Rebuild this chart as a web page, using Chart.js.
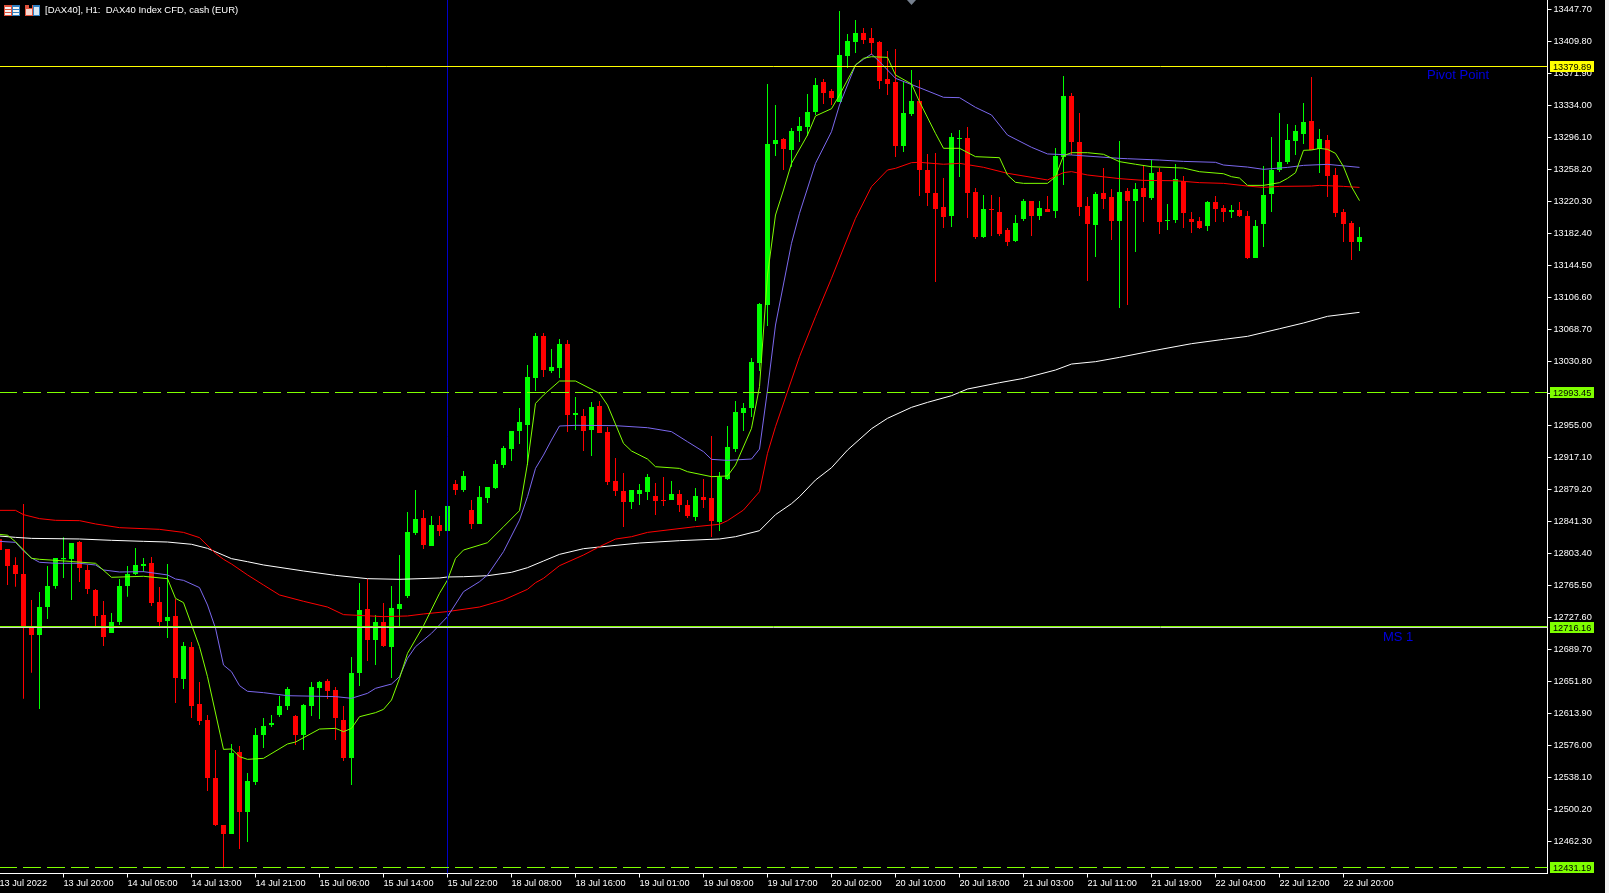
<!DOCTYPE html>
<html>
<head>
<meta charset="utf-8">
<title>DAX40 H1</title>
<script src="https://cdn.jsdelivr.net/npm/chart.js@4"></script>
<style>
  html, body { margin: 0; padding: 0; background: #f0f0f0; overflow: hidden; }
  canvas { display: block; background: #000; }
</style>
</head>
<body>
<canvas id="chart" width="1605" height="893"></canvas>
<script>
// one candle per hour, 13 Jul 2022 .. 22 Jul 2022
const opens = [
  12820.2,12808.7,12789.8,12779.1,12715.9,12706.9,12740,12764.9,12796.5,12796.9,
  12817,12783.9,12760.2,12730.6,12709.2,12722.3,12764.9,12779.1,12788.6,12792.2,
  12746,12723.5,12729.4,12654.8,12692.7,12625.2,12606.2,12537.5,12481.8,12471.2,
  12568.3,12497.2,12532.8,12588.4,12600.3,12612.1,12622.8,12610.9,12588.4,12622.8,
  12644.1,12652.4,12641.7,12606.2,12561.2,12661.9,12737.7,12701,12722.3,12692.7,
  12737.7,12753.1,12827.7,12845.4,12812.3,12837.2,12830,12885.7,12878.6,12854.9,
  12838.3,12869.1,12881,12908.2,12927.2,12948.5,12955.6,13011.2,13061,13019.5,
  13023.1,13051.5,12967.4,12966.2,12949.7,12978.1,12947.3,12889.2,12877.4,12864.4,
  12873.9,12876.2,12871.5,12866.8,12866.8,12873.9,12860.8,12846.6,12870.3,12869.1,
  12840.7,12891.6,12927.2,12969.8,12975.7,13029,13097.7,13288.4,13294.3,13281.3,
  13303.8,13308.5,13326.3,13361.8,13351.2,13338.1,13392.6,13409.2,13419.9,13413.9,
  13409.2,13365.4,13361.8,13286,13323.9,13339.3,13257.6,13230.4,13213.8,13203.1,
  13294.3,13295.5,13231.6,13178.3,13211.4,13207.9,13186.6,13173.5,13199.6,13220.9,
  13203.1,13211.4,13209,13273,13345.3,13290.8,13215,13192.5,13230.4,13225.6,
  13197.2,13232.7,13220.9,13236.3,13224.4,13255.2,13197.2,13198.4,13244.5,13199.5,
  13197.2,13191.2,13219.7,13212.6,13207.8,13210.2,13203.1,13153.4,13193.6,13229.2,
  13257.6,13267.1,13291.9,13300.2,13315.6,13282.4,13293.1,13251.7,13207.8,13194.8,
  13172.3
];
const highs = [
  12823.3,12808.7,12798.9,12862,12748.3,12757.8,12788.6,12798.1,12822.5,12815.8,
  12818.2,12789.8,12761.4,12747.1,12732.9,12773.2,12788.6,12809.9,12798.1,12799.2,
  12763.7,12791,12749.5,12698.6,12698.6,12651.2,12612.1,12570.7,12481.8,12577.8,
  12575.4,12543.4,12596.7,12608.6,12612.1,12634.6,12645.3,12612.1,12625.2,12651.2,
  12652.4,12654.8,12645.3,12622.8,12680.8,12768.5,12773.2,12730.6,12744.8,12764.9,
  12801.6,12852.6,12878.6,12854.9,12847.8,12847.8,12863.2,12890.4,12901.1,12866.8,
  12883.3,12882.2,12914.1,12930.7,12948.5,12975.7,13026.6,13064.5,13064.5,13045.6,
  13057.4,13056.3,12988.7,12974.5,12982.8,12984,12953.2,12916.5,12898.7,12878.6,
  12885.7,12897.5,12886.9,12894,12889.2,12878.6,12866.8,12881,12891.6,12942.5,
  12899.9,12954.4,12984,12981.6,13034.9,13100.1,13359.5,13334.6,13295.5,13307.4,
  13320.4,13347.6,13366.6,13365.4,13353.5,13445.9,13418.7,13435.3,13425.8,13425.8,
  13410.4,13398.5,13400.9,13361.8,13376,13364.2,13276.6,13277.8,13248.1,13301.4,
  13305,13308.5,13236.3,13228,13228,13225.6,13188.9,13204.3,13223.3,13220.9,
  13220.9,13226.8,13283.7,13368.9,13348.8,13325.1,13225.6,13231.6,13260,13235.1,
  13292,13236.3,13242.2,13262.3,13269.4,13259.9,13217.3,13264.7,13250.5,13207.8,
  13201.9,13220.9,13226.8,13216.1,13216.1,13219.7,13209,13198.4,13262.3,13296.7,
  13325.1,13312.1,13310.9,13336.9,13367.7,13306.1,13299,13259.9,13211.4,13197.2,
  13190.1
];
const lows = [
  12805.6,12766.1,12764.1,12631.5,12662.3,12619.2,12725.8,12761.7,12774.4,12748.3,
  12769.6,12755.4,12717.5,12693.9,12709.2,12718.7,12752.3,12777.9,12781.5,12741.2,
  12717.5,12703.3,12626.3,12642.9,12608.6,12600.3,12522.1,12480.7,12430.5,12471.2,
  12453.4,12461.7,12529.2,12573,12597.9,12609.8,12618,12576.6,12570.7,12610.9,
  12607.4,12631.1,12582.5,12557.6,12529.2,12646.5,12676.1,12671.3,12692.7,12656,
  12716.7,12750.7,12825.3,12808.7,12812.3,12824.1,12809.9,12872.7,12876.2,12832.4,
  12838.3,12863.2,12879.8,12904.7,12912.9,12933.1,12908.2,12995.9,13012.4,13017.2,
  13011.2,12947.3,12949.7,12924.8,12918.9,12946.1,12884.5,12871.5,12834.7,12856.1,
  12860.8,12866.8,12849,12859.6,12866.8,12852.5,12845.4,12841.9,12857.2,12822.9,
  12830,12890.4,12923.6,12948.5,12965,13019.5,13072.8,13274.2,13257.6,13261.6,
  13290.8,13297.9,13322.8,13335.8,13334.6,13338.1,13378.4,13396.2,13406.8,13393.8,
  13353.5,13346.4,13273,13278.9,13321.6,13226.8,13215,13125,13188.9,13190.1,
  13249.3,13200.8,13175.9,13177.1,13179.4,13179.4,13167.6,13172.3,13197.2,13179.4,
  13198.4,13207.9,13200.8,13239.9,13275.4,13203.1,13126.1,13154.6,13211.4,13174.7,
  13094.2,13097.7,13160.5,13196,13222,13181.8,13186.5,13194.8,13188.9,13183,
  13187.7,13185.3,13196,13196,13200.7,13201.9,13152.2,13153.4,13166.4,13207.8,
  13255.2,13264.7,13275.3,13288.4,13281.3,13254,13225.6,13201.9,13172.3,13151,
  13161.6
];
const closes = [
  12807.5,12788.6,12779.1,12715.9,12706.9,12740,12764.9,12798.1,12798.1,12815.8,
  12786.2,12761.4,12729.4,12704.5,12722.3,12764.9,12779.1,12789.8,12791,12744.8,
  12722.3,12728.2,12656,12693.9,12622.8,12605,12537.5,12481.8,12471.2,12567.1,
  12497.2,12534,12588.4,12599.1,12602.7,12622.8,12642.9,12588.4,12624,12645.3,
  12651.2,12640.5,12608.6,12561.2,12661.9,12736.5,12701,12722.3,12693.9,12738.9,
  12743.6,12828.9,12844.3,12813.5,12837.2,12830,12859.7,12878.6,12895.2,12838.3,
  12870.3,12882.2,12909.4,12928.4,12948.5,12959.1,13012.4,13061,13020.7,13024.3,
  13051.5,12967.4,12969.8,12948.5,12976.9,12946.1,12888,12877.4,12864.4,12878.6,
  12878.6,12894,12865.5,12865.5,12873.9,12860.8,12847.8,12871.5,12866.8,12841.9,
  12894,12929.5,12971,12975.7,13030.2,13098.9,13288.4,13293.1,13282.5,13303.8,
  13309.7,13326.3,13358.3,13348.8,13342.9,13393.8,13410.4,13419.9,13411.6,13408,
  13363,13359.5,13286,13325.1,13339.3,13257.6,13230.4,13211.4,13202,13296.7,
  13295.5,13230.4,13178.3,13211.4,13210.2,13181.8,13172.3,13194.8,13220.9,13203.1,
  13212.6,13207.9,13274.2,13345.3,13290.8,13213.8,13193.7,13229.2,13223.3,13197.2,
  13231.6,13220.9,13235.1,13225.6,13254,13196,13198.4,13246.9,13206.6,13196,
  13188.9,13219.7,13211.4,13207.8,13210.2,13203.1,13153.4,13191.2,13228,13257.6,
  13267.1,13293.1,13303.8,13314.4,13281.3,13294.3,13250.5,13206.6,13193.6,13172.3,
  13178.2
];

// moving averages, read at the bends of each line
const limeBars = [0,1,2,4,5,7,12,14,18,21,22,23,25,26,28,29,30,31,33,36,37,40,42,43,44,45,47,48,49,50,51,53,55,56,57,58,61,63,65,66,67,68,70,72,75,76,78,79,81,82,85,86,89,91,92,94,95,96,97,98,99,101,102,104,105,107,108,109,111,112,114,115,117,118,120,122,125,126,127,128,131,132,133,134,136,138,140,142,144,148,150,153,154,155,156,158,160,161,162,163,164,165,166,167,168,169,170];
const limeValues = [12826.1,12825,12817.4,12797.7,12796.5,12795.3,12791.8,12775.2,12776.4,12773.6,12750.3,12745.2,12693,12657.5,12571.4,12571.9,12562.8,12559.6,12560.8,12577.8,12580.1,12595.5,12596.3,12592.4,12596.3,12610.1,12614.9,12618.8,12629.9,12655.5,12685.1,12717.9,12756.2,12772,12797.6,12807.5,12816.2,12835.1,12854.1,12910.2,12981.2,12991.1,13007.7,13007.7,12993.1,12979.2,12933.8,12924.8,12915.3,12906.2,12904.2,12900.3,12894.4,12895.2,12908.2,12951.6,13001,13133.2,13204.3,13233.9,13265.5,13299,13321.6,13330.2,13346.4,13382,13389.9,13391.8,13391,13370.1,13359.5,13338.5,13301,13283.3,13283.3,13273.4,13272.2,13251.7,13243,13241.8,13241.8,13249.7,13274.6,13278.1,13278.1,13276.2,13267.5,13264.4,13261.5,13259.9,13255.6,13253.2,13249.7,13248.1,13239.4,13239.4,13242.6,13247.7,13254.4,13280.9,13281.3,13283.2,13282.1,13277.3,13261.5,13237.8,13221.3];
const purpleBars = [0,2,3,4,5,7,10,12,13,15,18,21,22,23,25,26,27,28,29,30,31,33,36,42,44,46,47,49,50,51,52,54,56,58,60,61,63,65,66,67,68,69,70,72,77,81,84,86,88,89,91,94,95,96,97,99,100,102,104,105,107,108,109,110,112,115,118,120,122,124,126,129,131,134,140,141,145,148,152,153,156,158,161,163,166,170];
const purpleValues = [12817.8,12816.6,12806.4,12798.1,12793,12791.8,12791.8,12789.8,12783.9,12781.5,12781.9,12778,12773.2,12771.6,12763,12742.4,12714.8,12671.3,12663.4,12646.9,12640.2,12638.6,12635,12633.9,12631.9,12637.8,12643.7,12648.8,12657.5,12679.3,12693,12708.9,12728.6,12758.2,12770,12777.9,12805.6,12843,12870.7,12904.2,12920,12937.8,12954.4,12955.2,12954.8,12952.4,12947.7,12935.8,12924,12914.9,12913.7,12915.3,12927.1,12997,13074,13170.8,13206.3,13265.5,13303,13334.6,13382,13388.7,13395,13385.9,13366.2,13355.1,13343.7,13343.3,13331.8,13322.8,13299,13284.5,13276.6,13275.4,13271.4,13271,13269.4,13267.8,13266.7,13263.5,13261.1,13258.4,13260.7,13263.1,13264.3,13260.7];
const redBars = [0,2,3,5,7,10,12,15,20,23,25,27,28,29,31,33,35,38,41,43,48,51,53,56,60,63,66,67,68,70,73,75,77,79,81,87,90,91,93,95,96,97,100,102,104,107,109,111,112,114,115,118,120,123,126,131,133,134,136,140,143,147,150,153,156,158,160,164,165,168,170];
const redValues = [12854.5,12854.5,12849.4,12844.7,12842.7,12842.3,12838.4,12834,12832,12828.4,12822.2,12803.6,12796.5,12791,12778,12766.1,12754.3,12746.8,12740,12731,12728.6,12729.4,12731.8,12734.6,12740,12748.3,12761,12768.8,12774,12789,12801.6,12811.5,12820.5,12823.3,12828.4,12835.2,12838,12842.3,12854.9,12876.6,12922,12953.6,13036.5,13083.9,13129.3,13200.4,13237.9,13257.6,13259.6,13266.3,13266.7,13264.4,13265.5,13260.8,13253.7,13245.8,13254.5,13255.7,13251.7,13247.4,13245.3,13244.9,13242.6,13241.8,13238.6,13237,13238.2,13238.6,13239.4,13238.2,13237];
const whiteBars = [0,2,4,10,14,18,21,24,26,29,31,33,38,42,46,50,55,56,58,61,64,66,68,70,73,75,80,85,90,92,95,97,99,100,102,104,106,109,111,114,116,119,121,125,128,132,134,137,140,144,149,153,156,160,163,166,170];
const whiteValues = [12824.1,12822.5,12821.3,12820.6,12819,12817.8,12817,12814.3,12809.5,12797.3,12793.7,12789.8,12782.7,12777.5,12773.6,12772.8,12774.4,12775.6,12775.9,12777.1,12781.1,12786.6,12794.5,12802.4,12809.1,12811.1,12815.8,12818.6,12820.6,12823.3,12830.4,12849.4,12862.4,12870.7,12890.4,12905,12925.9,12951.2,12963.5,12976.5,12982.4,12990.3,12998.2,13005.7,13010.8,13020.7,13027.8,13030.6,13035.7,13043.2,13051.9,13057,13060.6,13069.6,13076.4,13084.3,13089];

// horizontal objects on the chart
const levelValues = [13379.89, 12993.45, 12716.16, 12715.0, 12431.19];
const levelColors = ['#ffff00', '#7fff00', '#7fff00', '#d0d0d0', '#7fff00'];
const levelDashed = [false, true, false, false, true];
const tagValues = [13379.89, 12993.45, 12716.16, 12431.19];
const tagColors = ['#ffff00', '#7fff00', '#7fff00', '#7fff00'];
const markerBar = 56;

const yTicks = [13447.7,13409.8,13371.9,13334,13296.1,13258.2,13220.3,13182.4,13144.5,13106.6,13068.7,13030.8,12992.9,12955,12917.1,12879.2,12841.3,12803.4,12765.5,12727.6,12689.7,12651.8,12613.9,12576,12538.1,12500.2,12462.3];
const xTickLabels = ['13 Jul 2022','13 Jul 20:00','14 Jul 05:00','14 Jul 13:00','14 Jul 21:00','15 Jul 06:00','15 Jul 14:00','15 Jul 22:00','18 Jul 08:00','18 Jul 16:00','19 Jul 01:00','19 Jul 09:00','19 Jul 17:00','20 Jul 02:00','20 Jul 10:00','20 Jul 18:00','21 Jul 03:00','21 Jul 11:00','21 Jul 19:00','22 Jul 04:00','22 Jul 12:00','22 Jul 20:00'];
const xTickEvery = 8;

const UP = '#00ff00';
const DOWN = '#ff0000';
const FONT = '"Liberation Sans", Arial, sans-serif';

const candleColors = opens.map((o, i) => closes[i] >= o ? UP : DOWN);

function lineDataset(bars, values, color) {
    return {
        type: 'line',
        data: bars.map((b, i) => ({ x: b, y: values[i] })),
        borderColor: color,
        borderWidth: 1,
        pointRadius: 0,
        tension: 0,
        order: 0
    };
}

function noPadding(scale) {
    scale.paddingTop = 0;
    scale.paddingBottom = 0;
    scale.paddingLeft = 0;
    scale.paddingRight = 0;
}

// rules, tags, captions and the little toolbar icons
const overlay = {
    id: 'overlay',
    afterDatasetsDraw(chart) {
        const { ctx, chartArea, scales } = chart;
        ctx.save();
        ctx.beginPath();
        ctx.rect(0, 0, chartArea.right, chartArea.bottom);
        ctx.clip();
        ctx.lineWidth = 1;

        const vx = Math.floor(scales.x.getPixelForValue(markerBar)) + 0.5;
        ctx.strokeStyle = '#0000c8';
        ctx.beginPath();
        ctx.moveTo(vx, 0);
        ctx.lineTo(vx, chartArea.bottom);
        ctx.stroke();

        levelValues.forEach((v, i) => {
            const y = Math.floor(scales.y.getPixelForValue(v) - 0.5) + 0.5;
            ctx.strokeStyle = levelColors[i];
            ctx.setLineDash(levelDashed[i] ? [18, 6] : []);
            ctx.beginPath();
            ctx.moveTo(-1, y);
            ctx.lineTo(chartArea.right, y);
            ctx.stroke();
        });
        ctx.setLineDash([]);

        ctx.fillStyle = '#0000e0';
        ctx.font = '13px ' + FONT;
        ctx.textBaseline = 'alphabetic';
        ctx.textAlign = 'left';
        ctx.fillText('Pivot Point', 1427, 79);
        ctx.fillText('MS 1', 1383, 641);

        // drag handle at the top of the chart
        ctx.fillStyle = '#76808e';
        ctx.beginPath();
        ctx.moveTo(907, 0);
        ctx.lineTo(916, 0);
        ctx.lineTo(911.5, 5);
        ctx.closePath();
        ctx.fill();
        ctx.restore();
    },
    afterDraw(chart) {
        const { ctx, scales } = chart;
        ctx.save();
        ctx.font = '9.2px ' + FONT;
        ctx.textBaseline = 'middle';
        ctx.textAlign = 'left';
        tagValues.forEach((v, i) => {
            const top = Math.floor(scales.y.getPixelForValue(v) - 0.1) - 5;
            ctx.fillStyle = tagColors[i];
            ctx.fillRect(1550, top, 44, 11);
            ctx.fillStyle = '#000';
            ctx.fillText(v.toFixed(2), 1553, top + 6);
        });

        ctx.font = '9.5px ' + FONT;
        ctx.fillStyle = '#fff';
        ctx.fillText('[DAX40], H1:  DAX40 Index CFD, cash (EUR)', 45, 10.5);

        // window icons
        ctx.fillStyle = '#e0523c';
        ctx.fillRect(4, 5, 8, 11);
        ctx.fillStyle = '#2f7fc1';
        ctx.fillRect(12, 5, 8, 11);
        ctx.fillStyle = '#f4f4f4';
        ctx.fillRect(5, 7, 6, 2);
        ctx.fillRect(5, 10, 6, 2);
        ctx.fillRect(5, 13, 6, 2);
        ctx.fillRect(13, 7, 6, 2);
        ctx.fillRect(13, 10, 6, 2);
        ctx.fillRect(13, 13, 6, 2);

        ctx.fillStyle = '#e0523c';
        ctx.fillRect(25, 5, 8, 11);
        ctx.fillStyle = '#2f7fc1';
        ctx.fillRect(33, 5, 7, 11);
        ctx.fillStyle = '#f8d8d0';
        ctx.fillRect(26, 9, 6, 6);
        ctx.fillStyle = '#d8e8f4';
        ctx.fillRect(34, 7, 5, 8);
        ctx.fillStyle = '#000';
        ctx.fillRect(29, 5, 3, 3);
        ctx.restore();
    }
};

new Chart(document.getElementById('chart'), {
    type: 'bar',
    plugins: [overlay],
    data: {
        datasets: [
            lineDataset(limeBars, limeValues, '#7fff00'),
            lineDataset(purpleBars, purpleValues, '#7b68ee'),
            lineDataset(redBars, redValues, '#ff0000'),
            lineDataset(whiteBars, whiteValues, '#ffffff'),
            {
                // bodies
                data: opens.map((o, i) => ({ x: i, y: [o, closes[i]] })),
                backgroundColor: candleColors,
                barThickness: 5,
                grouped: false,
                inflateAmount: 0,
                order: 1
            },
            {
                // wicks
                data: lows.map((l, i) => ({ x: i, y: [l, highs[i]] })),
                backgroundColor: candleColors,
                barThickness: 1,
                grouped: false,
                inflateAmount: 0,
                order: 2
            }
        ]
    },
    options: {
        responsive: false,
        animation: false,
        devicePixelRatio: 1,
        layout: { autoPadding: false, padding: 0 },
        plugins: { legend: { display: false }, tooltip: { enabled: false } },
        scales: {
            x: {
                type: 'linear',
                offset: false,
                min: 0.0625,
                max: 193.5,
                afterFit(scale) { scale.height = 19.5; noPadding(scale); },
                afterBuildTicks(scale) {
                    scale.ticks = xTickLabels.map((_, i) => ({ value: i * xTickEvery }));
                },
                border: { color: '#fff', width: 1 },
                grid: { offset: false, drawOnChartArea: false, color: '#fff', tickLength: 4 },
                ticks: {
                    align: 'start',
                    autoSkip: false,
                    maxRotation: 0,
                    minRotation: 0,
                    padding: 0,
                    color: '#fff',
                    font: { family: FONT, size: 9.2 },
                    callback: v => xTickLabels[v / xTickEvery]
                }
            },
            y: {
                type: 'linear',
                position: 'right',
                min: 12424.4,
                max: 13458.95,
                afterFit(scale) { scale.width = 57.5; noPadding(scale); },
                afterBuildTicks(scale) {
                    scale.ticks = yTicks.map(v => ({ value: v }));
                },
                border: { color: '#fff', width: 1 },
                grid: { drawOnChartArea: false, color: '#fff', tickLength: 4 },
                ticks: {
                    autoSkip: false,
                    padding: 2,
                    color: '#fff',
                    font: { family: FONT, size: 9.2 },
                    callback: v => v.toFixed(2)
                }
            }
        }
    }
});
</script>
</body>
</html>
